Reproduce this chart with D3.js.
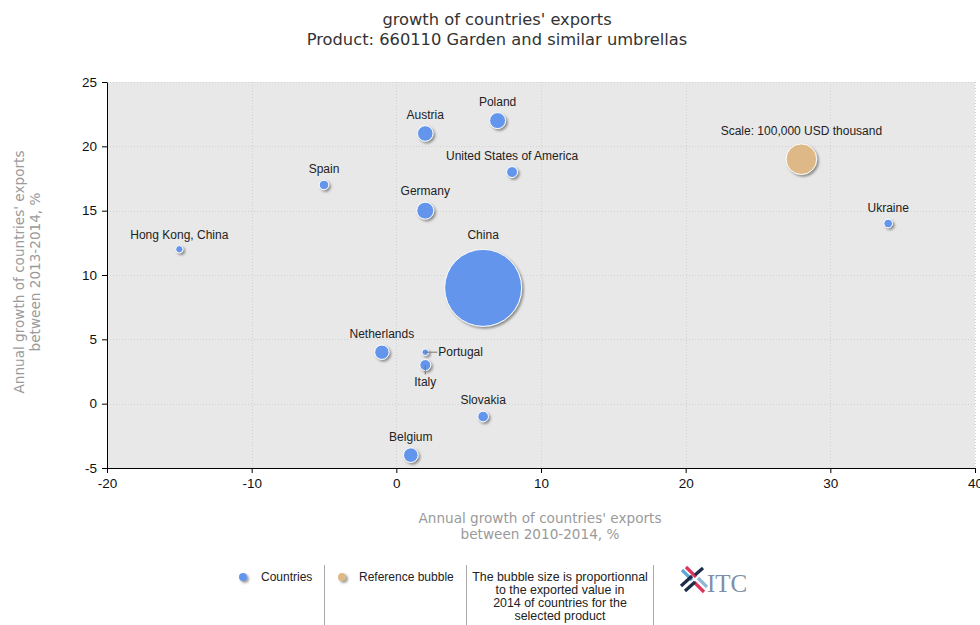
<!DOCTYPE html>
<html><head><meta charset="utf-8">
<script src="https://cdn.jsdelivr.net/npm/d3@7"></script>
<style>body{margin:0;background:#fff;} svg{display:block}</style>
</head><body><svg id="c" width="980" height="625"></svg>
<script>
// ---- data ----
const countries = ["China","Poland","Austria","United States of America","Germany","Spain","Hong Kong, China","Ukraine","Netherlands","Portugal","Italy","Slovakia","Belgium"];
const growth2010_2014 = [6, 7, 2, 8, 2, -5, -15, 34, -1, 2, 2, 6, 1];
const growth2013_2014 = [9, 22, 21, 18, 15, 17, 12, 14, 4, 4, 3, -1, -4];
const exportValue2014 = [633000, 27300, 26000, 12900, 30900, 9800, 5800, 7900, 22100, 4700, 12900, 12000, 22800];
const refLabel = "Scale: 100,000 USD thousand";
const refX = [28];
const refY = [19];
const refValue = [100000];
const xTicks = [-20, -10, 0, 10, 20, 30, 40];
const yTicks = [-5, 0, 5, 10, 15, 20, 25];
const titleLines = ["growth of countries' exports", "Product: 660110 Garden and similar umbrellas"];
const xTitleLines = ["Annual growth of countries' exports", "between 2010-2014, %"];
const yTitleLines = ["Annual growth of countries' exports", "between 2013-2014, %"];
const legendNote = ["The bubble size is proportionnal", "to the exported value in", "2014 of countries for the", "selected product"];

// ---- layout ----
const svg = d3.select("#c");
const L = 107, R = 975, T = 82, B = 468;
const x = d3.scaleLinear().domain([-20, 40]).range([L, R]);
const y = d3.scaleLinear().domain([-5, 25]).range([B, T]);
const r = d3.scaleSqrt().domain([0, 100000]).range([0, 15.3]);
const blue = "#6495ED", tan = "#DEB887";

const defs = svg.append("defs");
const f = defs.append("filter").attr("id", "sh").attr("x", "-50%").attr("y", "-50%").attr("width", "200%").attr("height", "200%");
f.append("feDropShadow").attr("dx", 1.8).attr("dy", 1.8).attr("stdDeviation", 0.9)
  .attr("flood-color", "#444").attr("flood-opacity", 0.55);

// title
svg.append("g").selectAll("text").data(titleLines).join("text")
  .attr("x", 497).attr("y", (d, i) => 25 + i * 20)
  .attr("text-anchor", "middle").attr("font-family", "DejaVu Sans, Verdana, sans-serif")
  .attr("font-size", 16.3).attr("fill", "#333").text(d => d);

// plot bg
svg.append("rect").attr("x", L).attr("y", T).attr("width", R - L).attr("height", B - T).attr("fill", "#e8e8e8");

// grid
const grid = svg.append("g").attr("stroke", "#d2d2d2").attr("stroke-dasharray", "1,2").attr("stroke-width", 1);
grid.selectAll(".gx").data(xTicks.slice(1)).join("line")
  .attr("x1", d => Math.round(x(d)) + 0.5).attr("x2", d => Math.round(x(d)) + 0.5).attr("y1", T).attr("y2", B);
grid.selectAll(".gy").data(yTicks.slice(1)).join("line")
  .attr("y1", d => Math.round(y(d)) + 0.5).attr("y2", d => Math.round(y(d)) + 0.5).attr("x1", L).attr("x2", R);

// axes
const tickFont = "Liberation Sans Narrow, Arial Narrow, Liberation Sans, sans-serif";
const fmt = d => String(d);
const gx = svg.append("g").attr("transform", `translate(0,${B})`)
  .call(d3.axisBottom(x).tickValues(xTicks).tickSize(5).tickSizeOuter(0).tickPadding(5).tickFormat(fmt));
const gy = svg.append("g").attr("transform", `translate(${L},0)`)
  .call(d3.axisLeft(y).tickValues(yTicks).tickSize(5).tickSizeOuter(0).tickPadding(5).tickFormat(fmt));
[gx, gy].forEach(g => {
  g.selectAll("text").attr("font-family", tickFont).attr("font-size", 13.5).attr("fill", "#111");
  g.select(".domain").attr("stroke", "#000");
  g.selectAll(".tick line").attr("stroke", "#000");
});
gx.selectAll("text").attr("dy", "0.75em");

// axis titles
svg.append("g").selectAll("text").data(xTitleLines).join("text")
  .attr("x", 540).attr("y", (d, i) => 523 + i * 16)
  .attr("text-anchor", "middle").attr("font-family", "DejaVu Sans, Verdana, sans-serif")
  .attr("font-size", 13.6).attr("fill", "#9a9a9a").text(d => d);
svg.append("g").attr("transform", "translate(0,272) rotate(-90)").selectAll("text").data(yTitleLines).join("text")
  .attr("x", 0).attr("y", (d, i) => 24 + i * 16)
  .attr("text-anchor", "middle").attr("font-family", "DejaVu Sans, Verdana, sans-serif")
  .attr("font-size", 13.6).attr("fill", "#9a9a9a").text(d => d);

// bubbles
const pts = countries.map((c, i) => ({name: c, gx: growth2010_2014[i], gy: growth2013_2014[i], v: exportValue2014[i]}))
  .sort((a, b) => b.v - a.v);
const bub = svg.append("g");
bub.selectAll("circle").data(pts).join("circle")
  .attr("cx", d => x(d.gx)).attr("cy", d => y(d.gy)).attr("r", d => r(d.v))
  .attr("fill", blue).attr("stroke", "#fff").attr("stroke-width", 1).attr("filter", "url(#sh)");
// reference bubble
bub.append("circle").attr("cx", x(refX[0])).attr("cy", y(refY[0])).attr("r", r(refValue[0]))
  .attr("fill", tan).attr("stroke", "#fff").attr("stroke-width", 1).attr("filter", "url(#sh)");

// labels
const labelFont = "Liberation Sans, Arial, sans-serif";
const placement = {"Portugal": "right", "Italy": "below"};
const lab = svg.append("g").attr("font-family", labelFont).attr("font-size", 12).attr("fill", "#222");
pts.forEach(d => {
  const cx = x(d.gx), cy = y(d.gy), rr = r(d.v);
  const p = placement[d.name] || "above";
  if (p === "above") {
    const off = rr > 20 ? 10 : 7;
    lab.append("text").attr("x", cx).attr("y", cy - rr - off).attr("text-anchor", "middle").text(d.name);
  } else if (p === "right") {
    lab.append("line").attr("x1", cx).attr("y1", cy).attr("x2", cx + 12).attr("y2", cy).attr("stroke", "#777");
    lab.append("text").attr("x", cx + 13).attr("y", cy + 4).attr("text-anchor", "start").text(d.name);
  } else {
    lab.append("line").attr("x1", cx).attr("y1", cy).attr("x2", cx).attr("y2", cy + rr + 4).attr("stroke", "#777");
    lab.append("text").attr("x", cx).attr("y", cy + rr + 15).attr("text-anchor", "middle").text(d.name);
  }
});
lab.append("text").attr("x", x(refX[0])).attr("y", y(refY[0]) - r(refValue[0]) - 9).attr("text-anchor", "middle").text(refLabel);

// legend
const lg = svg.append("g").attr("font-family", labelFont).attr("font-size", 12).attr("fill", "#222");
lg.append("circle").attr("cx", 243).attr("cy", 577).attr("r", 4).attr("fill", blue).attr("filter", "url(#sh)");
lg.append("text").attr("x", 261).attr("y", 581).text("Countries");
lg.append("circle").attr("cx", 342).attr("cy", 577).attr("r", 4).attr("fill", tan).attr("filter", "url(#sh)");
lg.append("text").attr("x", 359).attr("y", 581).text("Reference bubble");
[324, 466, 653].forEach(sx => lg.append("line").attr("x1", sx + 0.5).attr("x2", sx + 0.5).attr("y1", 565).attr("y2", 625).attr("stroke", "#aaa"));
lg.selectAll(".note").data(legendNote).join("text")
  .attr("x", 560).attr("y", (d, i) => 581 + i * 13).attr("text-anchor", "middle").attr("font-size", 12.4).text(d => d);

// ITC logo
const logo = svg.append("g").attr("transform", "translate(680,568)").attr("stroke-width", 3.2).attr("stroke-linecap", "butt");
logo.append("line").attr("x1", 2).attr("y1", 2).attr("x2", 12).attr("y2", 12).attr("stroke", "#5aa7d8");
logo.append("line").attr("x1", 6).attr("y1", -1).attr("x2", 16).attr("y2", 9).attr("stroke", "#e0335c");
logo.append("line").attr("x1", 14).attr("y1", 14).attr("x2", 24).attr("y2", 24).attr("stroke", "#e0335c");
logo.append("line").attr("x1", 18).attr("y1", 10).attr("x2", 27).attr("y2", 19).attr("stroke", "#8fb7d6");
logo.append("line").attr("x1", 1).attr("y1", 18).attr("x2", 12).attr("y2", 8).attr("stroke", "#1d2b4a");
logo.append("line").attr("x1", 5).attr("y1", 23).attr("x2", 15).attr("y2", 14).attr("stroke", "#1d2b4a");
logo.append("line").attr("x1", 15).attr("y1", 7).attr("x2", 23).attr("y2", 0).attr("stroke", "#1d2b4a");
svg.append("text").attr("x", 707).attr("y", 592).attr("font-family", "Liberation Serif, Times New Roman, serif")
  .attr("font-size", 25).attr("fill", "#7e8fa6").text("ITC");
</script></body></html>
